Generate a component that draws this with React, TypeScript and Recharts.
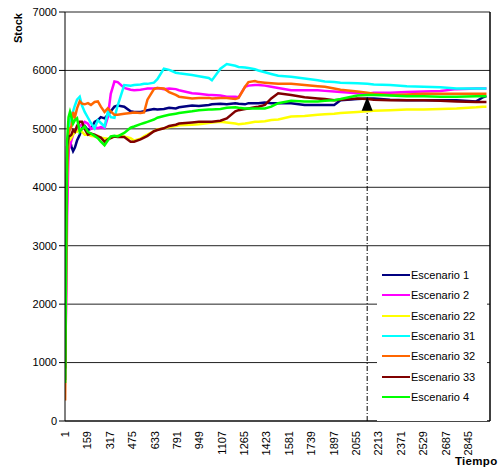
import React from 'react';
import { LineChart, Line, XAxis, YAxis, CartesianGrid, Legend, ReferenceLine, ReferenceDot } from 'recharts';

// time steps (x values)
const TIME = [1, 8, 15, 25, 35, 45, 57, 70, 85, 104, 120, 139, 162, 183, 209, 232, 253, 279, 302, 323, 349, 372, 418, 463, 488, 533, 558, 582, 628, 652, 698, 735, 782, 805, 897, 945, 1015, 1037, 1097, 1142, 1202, 1225, 1271, 1295, 1341, 1365, 1411, 1456, 1505, 1596, 1691, 1784, 1834, 1900, 1945, 2064, 2134, 2180, 2295, 2413, 2532, 2650, 2764, 2903, 2950, 2975];

const ESC_1 = [700, 2800, 4200, 4750, 4800, 4700, 4620, 4680, 4800, 4900, 5020, 5050, 4980, 5000, 5120, 5150, 5200, 5180, 5240, 5300, 5380, 5400, 5380, 5300, 5290, 5290, 5300, 5320, 5340, 5330, 5340, 5360, 5350, 5370, 5400, 5390, 5410, 5420, 5430, 5420, 5440, 5430, 5420, 5440, 5440, 5440, 5450, 5440, 5440, 5440, 5410, 5410, 5410, 5410, 5490, 5510, 5520, 5520, 5500, 5490, 5490, 5490, 5490, 5470, 5540, 5560];
const ESC_2 = [1000, 2000, 3500, 4640, 4700, 4800, 4900, 4950, 5000, 5050, 5080, 5120, 5090, 5000, 5030, 5010, 5030, 5010, 5200, 5600, 5810, 5800, 5700, 5670, 5660, 5670, 5680, 5690, 5690, 5700, 5680, 5690, 5680, 5660, 5610, 5600, 5580, 5580, 5570, 5550, 5550, 5540, 5720, 5740, 5750, 5750, 5740, 5720, 5700, 5660, 5660, 5660, 5650, 5640, 5630, 5610, 5600, 5620, 5620, 5630, 5640, 5650, 5680, 5690, 5690, 5690];
const ESC_22 = [900, 3000, 4500, 4800, 4810, 4850, 4900, 4950, 4950, 5000, 4950, 4900, 4900, 4880, 4870, 4880, 4850, 4840, 4830, 4850, 4870, 4880, 4870, 4840, 4800, 4830, 4870, 4900, 4960, 4990, 5010, 5030, 5050, 5060, 5070, 5080, 5100, 5110, 5120, 5110, 5090, 5080, 5090, 5100, 5120, 5120, 5130, 5150, 5160, 5210, 5220, 5240, 5250, 5260, 5270, 5290, 5300, 5310, 5320, 5330, 5330, 5340, 5350, 5370, 5380, 5380];
const ESC_31 = [800, 3200, 4500, 5000, 5150, 5240, 5300, 5400, 5500, 5550, 5400, 5290, 5190, 5100, 5010, 5150, 5100, 5040, 5290, 5200, 5190, 5400, 5750, 5740, 5750, 5760, 5770, 5770, 5790, 5850, 6030, 6010, 5960, 5950, 5920, 5900, 5870, 5830, 6030, 6110, 6080, 6060, 6050, 6040, 6020, 6000, 5970, 5940, 5910, 5890, 5860, 5830, 5810, 5800, 5790, 5780, 5770, 5760, 5750, 5730, 5720, 5710, 5690, 5690, 5690, 5690];
const ESC_32 = [350, 2500, 4200, 4900, 5000, 5040, 5290, 5200, 5350, 5470, 5430, 5420, 5440, 5410, 5460, 5470, 5380, 5290, 5350, 5300, 5240, 5240, 5260, 5270, 5280, 5270, 5280, 5500, 5680, 5700, 5690, 5630, 5580, 5550, 5520, 5530, 5530, 5520, 5530, 5530, 5510, 5530, 5720, 5800, 5820, 5800, 5790, 5780, 5770, 5770, 5750, 5730, 5720, 5690, 5670, 5640, 5620, 5600, 5580, 5590, 5600, 5600, 5600, 5600, 5600, 5600];
const ESC_33 = [900, 3500, 4700, 4870, 4880, 4900, 4980, 4950, 5050, 5120, 5120, 5000, 4900, 4920, 4900, 4870, 4850, 4780, 4820, 4840, 4870, 4860, 4860, 4780, 4780, 4820, 4850, 4880, 4960, 4980, 5010, 5050, 5070, 5090, 5110, 5120, 5120, 5120, 5140, 5180, 5300, 5320, 5340, 5350, 5370, 5380, 5410, 5520, 5610, 5580, 5540, 5520, 5510, 5490, 5500, 5520, 5510, 5500, 5490, 5490, 5490, 5480, 5470, 5460, 5460, 5460];
const ESC_4 = [650, 3000, 4800, 5200, 5290, 5200, 5090, 5150, 5180, 4950, 5000, 5040, 4950, 4920, 4880, 4840, 4780, 4720, 4800, 4870, 4880, 4870, 4930, 5020, 5040, 5080, 5100, 5120, 5160, 5190, 5220, 5240, 5260, 5270, 5300, 5320, 5330, 5330, 5340, 5360, 5370, 5360, 5350, 5350, 5350, 5350, 5350, 5380, 5440, 5480, 5470, 5470, 5480, 5490, 5510, 5570, 5580, 5580, 5570, 5560, 5560, 5550, 5550, 5560, 5560, 5560];

const X_TICKS = [1, 159, 317, 475, 633, 791, 949, 1107, 1265, 1423, 1581, 1739, 1897, 2055, 2213, 2371, 2529, 2687, 2845];
const Y_TICKS = [0, 1000, 2000, 3000, 4000, 5000, 6000, 7000];

// marked time and stock level (arrow)
const MARK_T = 2133;
const MARK_STOCK = 5550;

const SERIES = [
    { key: 'e1', name: 'Escenario 1', color: '#000080', values: ESC_1 },
    { key: 'e2', name: 'Escenario 2', color: '#FF00FF', values: ESC_2 },
    { key: 'e22', name: 'Escenario 22', color: '#FFFF00', values: ESC_22 },
    { key: 'e31', name: 'Escenario 31', color: '#00FFFF', values: ESC_31 },
    { key: 'e32', name: 'Escenario 32', color: '#FF6600', values: ESC_32 },
    { key: 'e33', name: 'Escenario 33', color: '#800000', values: ESC_33 },
    { key: 'e4', name: 'Escenario 4', color: '#00FF00', values: ESC_4 },
];

const data = TIME.map((t, i) => {
    const row: Record<string, number> = { t };
    SERIES.forEach(s => { row[s.key] = s.values[i]; });
    return row;
});

const FONT = '"Liberation Sans", Arial, sans-serif';

const styles = {
    wrapper: {
        position: 'absolute',
        left: 0,
        top: 0,
        width: 500,
        height: 474,
        background: '#fff',
        fontFamily: FONT,
    } as React.CSSProperties,
    yTitle: {
        position: 'absolute',
        left: 18,
        top: 28,
        transform: 'translate(-50%, -50%) rotate(-90deg)',
        fontSize: 11,
        fontWeight: 'bold',
        whiteSpace: 'nowrap',
    } as React.CSSProperties,
    xTitle: {
        position: 'absolute',
        left: 455,
        top: 455,
        fontSize: 11.5,
        fontWeight: 'bold',
        letterSpacing: '0.3px',
    } as React.CSSProperties,
    legendBox: {
        background: '#fff',
        width: 110,
        height: 163,
        paddingTop: 7,
        boxSizing: 'border-box',
    } as React.CSSProperties,
    legendRow: {
        display: 'flex',
        alignItems: 'center',
        height: 20.3,
        fontSize: 11,
        color: '#000',
    } as React.CSSProperties,
};

const XTick = (props: any) => {
    const { x, payload } = props;
    const y = 431;
    return (
        <text x={x} y={y} transform={`rotate(-90, ${x}, ${y})`} textAnchor="end" dy="0.35em"
            fontSize={11} fontFamily={FONT} fill="#000">
            {payload.value}
        </text>
    );
};

const renderLegend = () => (
    <div style={styles.legendBox}>
        {SERIES.map(s => (
            <div key={s.key} style={styles.legendRow}>
                <span style={{ display: 'inline-block', width: 28, height: 2, background: s.color, marginLeft: 5, marginRight: 1 }} />
                <span>{s.name}</span>
            </div>
        ))}
    </div>
);

const Arrow = (props: any) => {
    const { cx, cy } = props;
    return <path d={`M${cx},${cy} L${cx - 5.5},${cy + 14} L${cx + 5.5},${cy + 14} Z`} fill="#000" />;
};

const App = () => {
    return (
        <div style={styles.wrapper}>
            <LineChart width={500} height={474} data={data} margin={{ top: 12, right: 10, left: 15, bottom: 13 }}>
                <CartesianGrid vertical={false} stroke="#222" />
                <XAxis dataKey="t" type="number" domain={[0, 3000]} ticks={X_TICKS} interval={0}
                    tick={<XTick />} tickLine={false} axisLine={{ stroke: '#000' }} height={40} allowDataOverflow />
                <YAxis domain={[0, 7000]} ticks={Y_TICKS} interval={0} width={50} tickSize={6}
                    tick={{ fill: '#000', fontSize: 11, fontFamily: FONT }} stroke="#000" />
                <ReferenceLine x={3000} stroke="#000" strokeWidth={1.5} />
                <ReferenceLine segment={[{ x: MARK_T, y: 0 }, { x: MARK_T, y: 5400 }]} stroke="#000" strokeDasharray="5 2 1 2" />
                <Legend layout="vertical" align="center" verticalAlign="middle" content={renderLegend}
                    wrapperStyle={{ left: 377, top: 258, width: 110, height: 163 }} />
                {SERIES.map(s => (
                    <Line key={s.key} dataKey={s.key} name={s.name} stroke={s.color} strokeWidth={2.5}
                        dot={false} isAnimationActive={false} type="linear" />
                ))}
                <ReferenceDot x={MARK_T} y={MARK_STOCK} shape={<Arrow />} />
            </LineChart>
            <div style={styles.yTitle}>Stock</div>
            <div style={styles.xTitle}>Tiempo</div>
        </div>
    );
};

export default App;
